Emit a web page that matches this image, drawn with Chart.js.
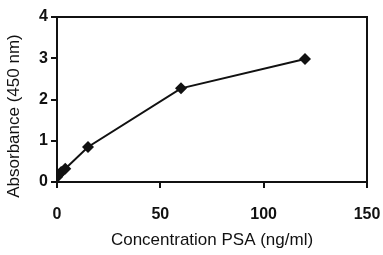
<!DOCTYPE html>
<html>
<head>
<meta charset="utf-8">
<script src="https://cdn.jsdelivr.net/npm/chart.js@4"></script>
<style>
  html, body { margin: 0; padding: 0; background: #fff; }
  #wrap { width: 383px; height: 255px; }
</style>
</head>
<body>
<div id="wrap"><canvas id="grafico"></canvas></div>
<script>
// concentracion PSA (ng/ml) y absorbancia a 450 nm
const concentracion = [0, 1, 2, 4, 15, 60, 120];
const absorbancia = [0.12, 0.18, 0.24, 0.32, 0.85, 2.27, 2.98];
const ticksX = [0, 50, 100, 150];
const ticksY = [0, 1, 2, 3, 4];

const fuente = "'Liberation Sans', Arial, sans-serif";
const tinta = '#111';

// marco completo alrededor del area del grafico
const marco = {
  id: 'marco',
  afterDraw(chart) {
    const { ctx, chartArea: a } = chart;
    ctx.save();
    ctx.strokeStyle = tinta;
    ctx.lineWidth = 2;
    ctx.strokeRect(a.left, a.top, a.right - a.left, a.bottom - a.top);
    ctx.restore();
  }
};

const ctx = document.getElementById('grafico').getContext('2d');

new Chart(ctx, {
  type: 'line',
  data: {
    datasets: [{
      data: concentracion.map((x, i) => ({ x, y: absorbancia[i] })),
      borderColor: tinta,
      borderWidth: 2,
      backgroundColor: tinta,
      pointStyle: 'rectRot',
      pointRadius: 6,
      pointBorderWidth: 0,
      tension: 0,
      fill: false
    }]
  },
  options: {
    responsive: true,
    maintainAspectRatio: false,
    animation: false,
    layout: { padding: { top: 17, right: 0, left: 0, bottom: 0 } },
    plugins: { legend: { display: false }, tooltip: { enabled: false } },
    scales: {
      x: {
        type: 'linear',
        min: 0,
        max: 150,
        afterBuildTicks: s => { s.ticks = ticksX.map(v => ({ value: v })); },
        afterFit: s => { s.height = 73; s.paddingRight = 16; s.paddingLeft = 0; },
        grid: { drawOnChartArea: false, color: tinta, lineWidth: 2, tickLength: 6 },
        border: { color: tinta, width: 2 },
        ticks: { color: tinta, font: { family: fuente, size: 16, weight: 'bold' }, padding: 17, maxRotation: 0 },
        title: {
          display: true,
          text: 'Concentration PSA (ng/ml)',
          color: tinta,
          font: { family: fuente, size: 17 },
          padding: { top: 4 }
        }
      },
      y: {
        min: 0,
        max: 4,
        afterBuildTicks: s => { s.ticks = ticksY.map(v => ({ value: v })); },
        afterFit: s => { s.width = 57; },
        grid: { drawOnChartArea: false, color: tinta, lineWidth: 2, tickLength: 6 },
        border: { color: tinta, width: 2 },
        ticks: { color: tinta, font: { family: fuente, size: 16, weight: 'bold' }, padding: 3 },
        title: {
          display: true,
          // espacios al final para bajar el titulo como en la figura
          text: 'Absorbance (450 nm)       ',
          color: tinta,
          font: { family: fuente, size: 17 },
          padding: { bottom: 2 }
        }
      }
    }
  },
  plugins: [marco]
});
</script>
</body>
</html>
